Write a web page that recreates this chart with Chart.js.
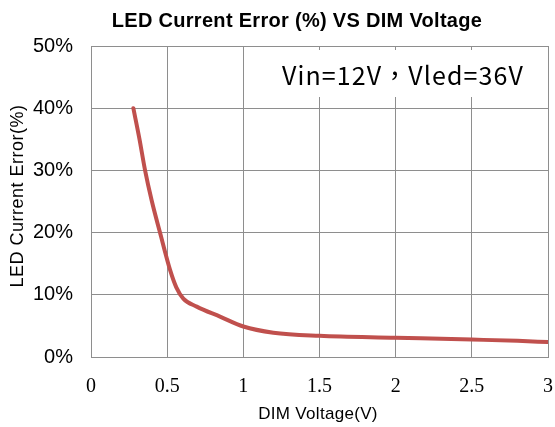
<!DOCTYPE html>
<html>
<head>
<meta charset="utf-8">
<script src="https://cdn.jsdelivr.net/npm/chart.js@4/dist/chart.umd.min.js"></script>
<style>
html,body{margin:0;padding:0;background:#fff;}
#wrap{width:555px;height:427px;position:relative;}
</style>
</head>
<body>
<div id="wrap"><canvas id="c" width="555" height="427"></canvas></div>
<script>
const chartTitle = "LED Current Error (%) VS DIM Voltage";
const xAxisTitle = "DIM Voltage(V)";
const yAxisTitle = "LED Current Error(%)";
const noteText = "Vin=12V\uFF0CVled=36V";
const xTicks = [0, 0.5, 1, 1.5, 2, 2.5, 3];
const yTicks = [0, 10, 20, 30, 40, 50];
const dimVoltage = [0.278, 0.317, 0.355, 0.398, 0.453, 0.519, 0.56, 0.606, 0.694, 0.847, 1.0, 1.197, 1.5, 2.0, 2.5, 2.8, 3.0];
const currentError = [40, 35.2, 30, 25.2, 20, 14, 11.2, 9.4, 8.1, 6.5, 4.9, 3.9, 3.4, 3.1, 2.8, 2.6, 2.4];

const points = dimVoltage.map((v, i) => ({x: v, y: currentError[i]}));

function drawText(ctx, text, x, y, font, spacing, rot) {
  ctx.save();
  ctx.translate(x, y);
  if (rot) ctx.rotate(rot);
  ctx.font = font;
  ctx.letterSpacing = spacing + 'px';
  ctx.fillStyle = '#000';
  ctx.textAlign = 'center';
  ctx.textBaseline = 'middle';
  ctx.fillText(text, 0, 0);
  ctx.restore();
}

const decor = {
  id: 'decor',
  afterDatasetsDraw(chart) {
    const ctx = chart.ctx;
    const a = chart.chartArea;
    ctx.save();
    ctx.fillStyle = '#fff';
    ctx.fillRect(270, a.top + 4, a.right - 270 - 1, 47);
    ctx.fillStyle = '#000';
    ctx.font = '25px "Noto Sans CJK TC"';
    ctx.letterSpacing = '1.1px';
    ctx.textAlign = 'left';
    ctx.textBaseline = 'alphabetic';
    ctx.fillText(noteText, 282, 85);
    ctx.restore();
  },
  afterDraw(chart) {
    const ctx = chart.ctx;
    drawText(ctx, chartTitle, 297, 21, 'bold 20px "Liberation Sans"', 0.3, 0);
    drawText(ctx, xAxisTitle, 318, 414, '17px "Liberation Sans"', 0.3, 0);
    drawText(ctx, yAxisTitle, 18, 196, '18px "Liberation Sans"', 0.5, -Math.PI / 2);
  }
};

new Chart(document.getElementById('c'), {
  type: 'scatter',
  data: {
    datasets: [{
      data: points,
      showLine: true,
      borderColor: '#C0504D',
      backgroundColor: '#C0504D',
      borderWidth: 4,
      pointRadius: 0,
      borderCapStyle: 'round',
      cubicInterpolationMode: 'monotone'
    }]
  },
  options: {
    responsive: false,
    animation: false,
    layout: {padding: {top: 46, right: 7, left: 0, bottom: 0}},
    plugins: {legend: {display: false}, tooltip: {enabled: false}, title: {display: false}},
    scales: {
      x: {
        type: 'linear', min: 0, max: 3,
        afterBuildTicks: s => { s.ticks = xTicks.map(v => ({value: v})); },
        afterFit: s => { s.height = 70; s.paddingLeft = 0; s.paddingRight = 0; },
        grid: {color: '#8e8e8e', lineWidth: 1, drawTicks: false},
        border: {color: '#8e8e8e', width: 1},
        ticks: {color: '#000', font: {family: '"Liberation Serif"', size: 20}, padding: 18, maxRotation: 0, callback: v => String(v)},
        title: {display: false}
      },
      y: {
        type: 'linear', min: 0, max: 50,
        afterBuildTicks: s => { s.ticks = yTicks.map(v => ({value: v})); },
        afterFit: s => { s.width = 91; s.paddingTop = 0; s.paddingBottom = 0; },
        grid: {color: '#8e8e8e', lineWidth: 1, drawTicks: false},
        border: {color: '#8e8e8e', width: 1},
        ticks: {color: '#000', font: {family: '"Liberation Sans"', size: 20}, padding: 18, callback: v => v + '%'},
        title: {display: false}
      }
    }
  },
  plugins: [decor]
});
</script>
</body>
</html>
